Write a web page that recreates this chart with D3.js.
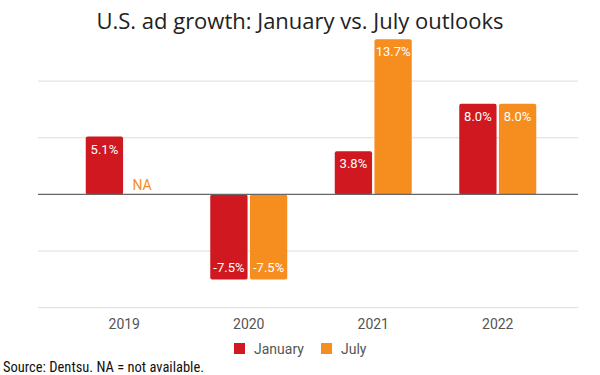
<!DOCTYPE html>
<html>
<head>
<meta charset="utf-8">
<script src="https://cdn.jsdelivr.net/npm/d3@7"></script>
<style>
  body { margin: 0; background: #fff; }
  svg { display: block; }
</style>
</head>
<body>
<svg width="600" height="375"></svg>
<script>
// chart values
const years = ["2019", "2020", "2021", "2022"];
const seriesNames = ["January", "July"];
const january = [5.1, -7.5, 3.8, 8.0];
const july = [null, -7.5, 13.7, 8.0]; // 2019 July not available
const yTicks = [-10, -5, 0, 5, 10];

const colors = { January: "#cf1820", July: "#f68d1f" };

const svg = d3.select("svg");

// title
svg.append("text")
    .attr("x", 300)
    .attr("y", 29)
    .attr("text-anchor", "middle")
    .attr("font-family", "'Open Sans', sans-serif")
    .attr("font-size", 22)
    .attr("fill", "#222")
    .text("U.S. ad growth: January vs. July outlooks");

const x0 = d3.scaleBand().domain(years).range([62, 560]);
const groupW = 77;
const x1 = d3.scaleBand().domain(seriesNames).range([0, groupW]).paddingInner(0.06);
const y = d3.scaleLinear().domain([-10, 10]).range([307.7, 81.1]);

// gridlines
svg.append("g")
    .selectAll("line")
    .data(yTicks.filter(d => d !== 0))
    .join("line")
    .attr("x1", 38)
    .attr("x2", 578)
    .attr("y1", d => y(d))
    .attr("y2", d => y(d))
    .attr("stroke", "#dcdcdc")
    .attr("stroke-width", 1);

// rows of bar data
const rows = [];
years.forEach((yr, i) => {
    rows.push({ year: yr, series: "January", value: january[i] });
    rows.push({ year: yr, series: "July", value: july[i] });
});

const barX = d => x0(d.year) + (x0.bandwidth() - groupW) / 2 + x1(d.series);

svg.append("g")
    .selectAll("rect")
    .data(rows.filter(d => d.value != null))
    .join("rect")
    .attr("x", barX)
    .attr("y", d => y(Math.max(0, d.value)))
    .attr("width", x1.bandwidth())
    .attr("height", d => Math.abs(y(d.value) - y(0)))
    .attr("rx", 2)
    .attr("fill", d => colors[d.series]);

// zero line
svg.append("line")
    .attr("x1", 38)
    .attr("x2", 578)
    .attr("y1", y(0))
    .attr("y2", y(0))
    .attr("stroke", "#666")
    .attr("stroke-width", 1.2);

// value labels inside bars
svg.append("g")
    .selectAll("text")
    .data(rows.filter(d => d.value != null))
    .join("text")
    .attr("x", d => barX(d) + x1.bandwidth() / 2)
    .attr("y", d => d.value >= 0 ? y(d.value) + 17 : y(d.value) - 7.5)
    .attr("text-anchor", "middle")
    .attr("font-family", "Roboto, sans-serif")
    .attr("font-size", 13)
    .attr("fill", "#fff")
    .text(d => d.value.toFixed(1) + "%");

// NA labels
svg.append("g")
    .selectAll("text")
    .data(rows.filter(d => d.value == null))
    .join("text")
    .attr("x", d => barX(d) + x1.bandwidth() / 2 - 2)
    .attr("y", y(0) - 4)
    .attr("text-anchor", "middle")
    .attr("font-family", "Roboto, sans-serif")
    .attr("font-size", 14)
    .attr("fill", colors.July)
    .text("NA");

// x axis labels
const xAxis = svg.append("g")
    .attr("transform", `translate(0,${y(-10)})`)
    .call(d3.axisBottom(x0).tickSize(0).tickPadding(11));
xAxis.select(".domain").remove();
xAxis.selectAll("text")
    .attr("font-family", "Roboto, sans-serif")
    .attr("font-size", 14)
    .attr("fill", "#555");

// legend
const legend = svg.append("g");
const legendX = [234, 321];
seriesNames.forEach((s, i) => {
    legend.append("rect")
        .attr("x", legendX[i])
        .attr("y", 343)
        .attr("width", 11)
        .attr("height", 11)
        .attr("fill", colors[s]);
    legend.append("text")
        .attr("x", legendX[i] + 20)
        .attr("y", 353.5)
        .attr("font-family", "Roboto, sans-serif")
        .attr("font-size", 14)
        .attr("fill", "#555")
        .text(s);
});

// source note
svg.append("text")
    .attr("x", 3)
    .attr("y", 372)
    .attr("font-family", "'Liberation Sans Narrow', 'Roboto Condensed', Roboto, sans-serif")
    .attr("font-size", 14.5)
    .attr("fill", "#111")
    .text("Source: Dentsu. NA = not available.");
</script>
</body>
</html>
